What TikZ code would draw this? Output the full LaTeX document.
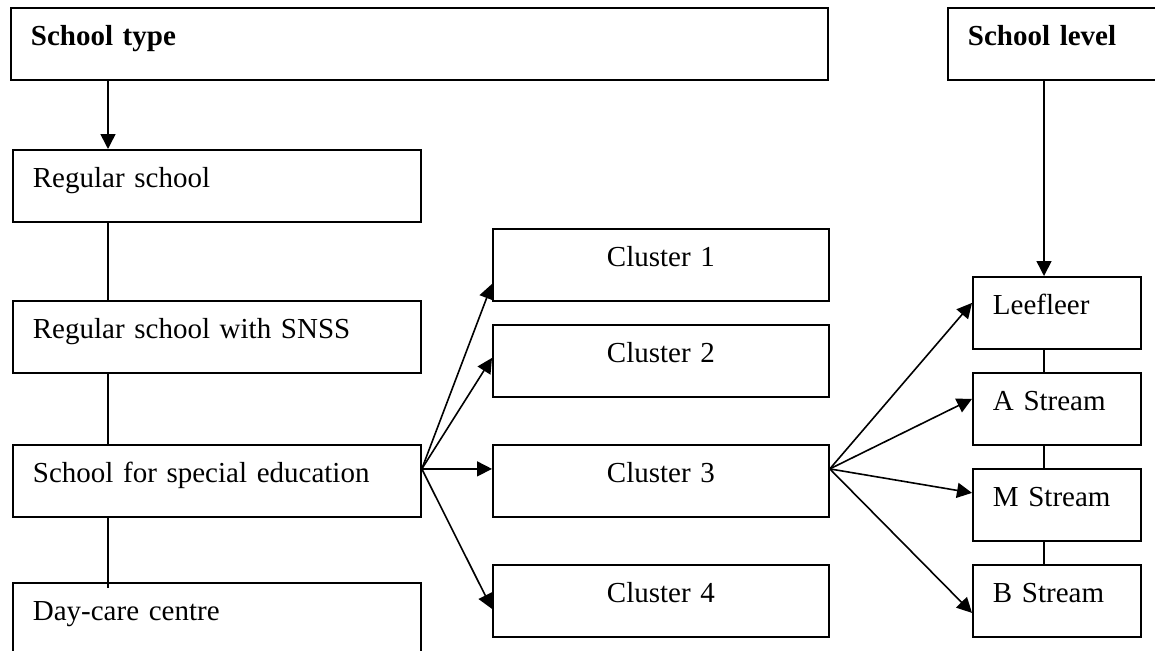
\documentclass[tikz,border=0pt]{standalone}
\usepackage{fontspec}
\setmainfont{Liberation Serif}
\usetikzlibrary{arrows.meta}

\tikzset{
  box/.style={draw, line width=1.8pt, anchor=north west, inner xsep=20pt, inner ysep=0pt,
    text height=38pt, text depth=34pt, align=left, font=\fontsize{29}{34}\selectfont},
  headbox/.style={box, font=\fontsize{29}{34}\selectfont\bfseries},
  leftbox/.style={box, text width=368pt},
  clusterbox/.style={box, text width=296pt, align=center},
  streambox/.style={box, text width=128pt},
  link/.style={line width=1.6pt},
  arrow/.style={link, -{Triangle[length=15pt,width=15pt]}},
}

\begin{document}
\begin{tikzpicture}[x=1pt, y=-1pt]
\useasboundingbox (0,0) rectangle (1155,650);
\clip (0,0) rectangle (1155,650);

% Headers
\node[headbox, text width=777pt] (type) at (10,7) {School type};
\node[headbox, text width=178pt] (level) at (947,7) {School level};

% School types
\node[leftbox] (regular) at (12,149) {Regular school};
\node[leftbox] (snss) at (12,300) {Regular school with SNSS};
\node[leftbox] (special) at (12,444) {School for special education};
\node[leftbox] (daycare) at (12,582) {Day-care centre};

% Clusters
\node[clusterbox] (c1) at (492,228) {Cluster 1};
\node[clusterbox] (c2) at (492,324) {Cluster 2};
\node[clusterbox] (c3) at (492,444) {Cluster 3};
\node[clusterbox] (c4) at (492,564) {Cluster 4};

% School levels
\node[streambox] (leefleer) at (972,276) {Leefleer};
\node[streambox] (astream) at (972,372) {A Stream};
\node[streambox] (mstream) at (972,468) {M Stream};
\node[streambox] (bstream) at (972,564) {B Stream};

% Columns of the vertical links
\coordinate (lx) at (108,0);
\coordinate (rx) at (1044,0);
\coordinate (dctop) at ([yshift=-6pt]daycare.north);

% Left column
\draw[arrow] (type.south -| lx) -- (regular.north -| lx);
\draw[link] (regular.south -| lx) -- (snss.north -| lx);
\draw[link] (snss.south -| lx) -- (special.north -| lx);
\draw[link] (special.south -| lx) -- (dctop -| lx);

% Right column
\draw[arrow] (level.south -| rx) -- (leefleer.north -| rx);
\draw[link] (leefleer.south -| rx) -- (astream.north -| rx);
\draw[link] (astream.south -| rx) -- (mstream.north -| rx);
\draw[link] (mstream.south -| rx) -- (bstream.north -| rx);

% Fans
\coordinate (sfan) at ([yshift=12pt]special.east);
\coordinate (cfan) at ([yshift=12pt]c3.east);
\foreach \t/\s in {c1/-19pt, c2/3pt, c3/12pt, c4/-8pt}
  \draw[arrow] (sfan) -- ([yshift=\s]\t.west);
\foreach \t/\s in {leefleer/10pt, astream/10pt, mstream/12pt, bstream/-12pt}
  \draw[arrow] (cfan) -- ([yshift=\s]\t.west);

\end{tikzpicture}
\end{document}
